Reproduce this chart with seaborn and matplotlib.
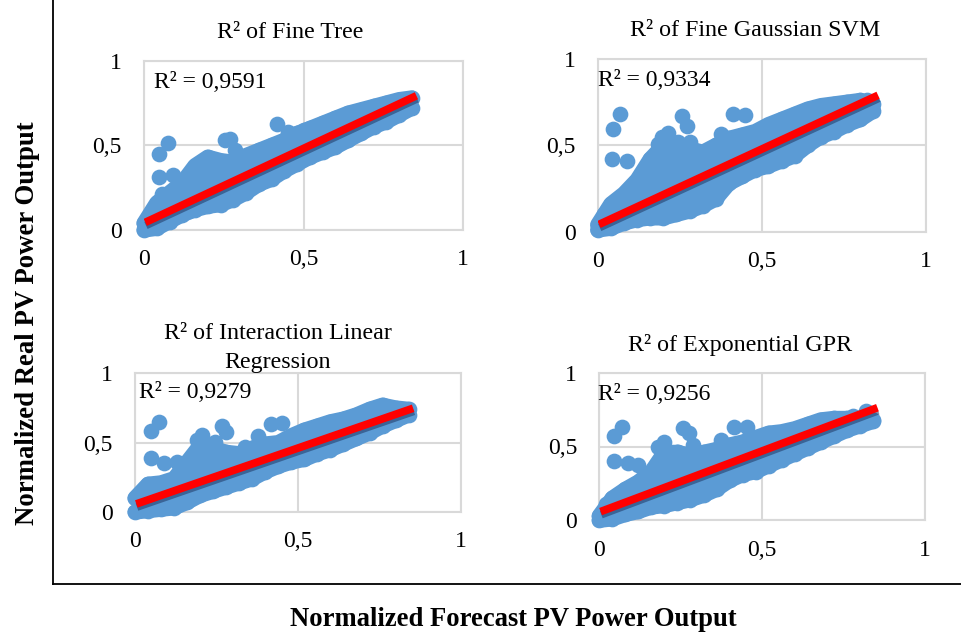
import matplotlib
matplotlib.use("Agg")
import matplotlib.pyplot as plt
import matplotlib.patheffects as pe
import seaborn as sns

x_edge = [0, .04, .08, .12, .16, .20, .24, .28, .32, .36, .40, .44, .48, .52, .56, .60, .64, .68, .72, .76, .80, .84]
x_mid = [.02, .06, .10, .14, .18, .22, .26, .30, .34, .38, .42, .46, .50, .54, .58, .62, .66, .70, .74, .78, .82]
x_side = [.02, .06, .10, .14, .18, .22, .26, .30, .34, .38, .42, .46]
x_dense = [.12, .16, .20, .24, .28, .32]
x_line = [0.004, 0.854]

titles = ["R² of Fine Tree", "R² of Fine Gaussian SVM",
          "R² of Interaction Linear\nRegression", "R² of Exponential GPR"]
r2_labels = ["R² = 0,9591", "R² = 0,9334", "R² = 0,9279", "R² = 0,9256"]
tick_values = [0, 0.5, 1]
tick_labels = ["0", "0,5", "1"]

tree_upper = [.04, .16, .22, .28, .38, .43, .41, .40, .44, .47, .50, .53, .57, .60, .63, .66, .69, .71, .73, .75, .77, .78]
tree_lower = [0, .01, .05, .09, .12, .14, .15, .18, .22, .27, .30, .35, .39, .43, .46, .49, .53, .57, .61, .64, .68, .72]
tree_mid = [.06, .10, .13, .17, .20, .24, .27, .31, .34, .38, .41, .45, .48, .52, .55, .59, .62, .66, .69, .73, .76]
tree_hi = [.09, .15, .19, .23, .28, .30, .32, .35, .38, .43, .46, .50]
tree_lo = [.03, .06, .09, .11, .14, .17, .19, .22, .27, .31, .36, .39]
tree_top = [.22, .31, .36, .35, .35, .37]
tree_out_x = [.076, .048, .048, .092, .27, .254, .285, .418, .452, .50, .055]
tree_out_y = [.512, .449, .315, .325, .54, .53, .47, .624, .58, .59, .215]
tree_line = [.045, .793]

svm_upper = [.04, .16, .22, .30, .42, .50, .50, .48, .46, .50, .54, .56, .58, .62, .65, .68, .71, .73, .74, .75, .76, .74]
svm_lower = [.01, .02, .05, .07, .08, .08, .10, .12, .15, .19, .28, .32, .36, .38, .41, .44, .50, .55, .58, .62, .65, .70]
svm_mid = [.06, .095, .13, .165, .20, .235, .27, .31, .34, .38, .41, .45, .48, .52, .55, .59, .62, .66, .69, .73, .76]
svm_hi = [.10, .16, .21, .26, .32, .35, .35, .36, .40, .44, .47, .52]
svm_lo = [.03, .05, .08, .11, .13, .16, .18, .22, .26, .30, .35, .39]
svm_top = [.24, .34, .42, .43, .41, .40]
svm_out_x = [.068, .048, .045, .09, .258, .271, .413, .45, .375, .195, .215, .245, .28, .185]
svm_out_y = [.68, .595, .42, .41, .67, .614, .68, .675, .565, .55, .57, .52, .52, .51]
svm_line = [.042, .79]

lin_upper = [.10, .20, .21, .24, .36, .48, .46, .43, .42, .46, .49, .50, .55, .59, .62, .65, .67, .70, .74, .77, .75, .74]
lin_lower = [0, .01, .02, .03, .07, .12, .15, .18, .21, .24, .29, .33, .36, .38, .42, .45, .49, .53, .57, .62, .66, .70]
lin_mid = [.07, .105, .14, .17, .20, .235, .27, .30, .33, .365, .40, .43, .465, .50, .53, .56, .595, .625, .66, .69, .72]
lin_hi = [.11, .16, .19, .21, .27, .31, .33, .35, .37, .40, .44, .47]
lin_lo = [.03, .05, .07, .09, .13, .17, .19, .22, .24, .28, .33, .36]
lin_top = [.20, .30, .40, .39, .37, .37]
lin_out_x = [.074, .048, .048, .089, .266, .28, .418, .45, .379, .205, .19, .246, .338, .128]
lin_out_y = [.65, .587, .387, .35, .62, .58, .635, .64, .548, .555, .52, .507, .47, .36]
lin_line = [.058, .748]

gpr_upper = [.03, .15, .21, .26, .33, .46, .46, .44, .46, .48, .51, .53, .56, .59, .60, .62, .65, .68, .69, .69, .69, .68]
gpr_lower = [0, .01, .04, .06, .09, .10, .12, .14, .17, .21, .27, .31, .33, .37, .41, .45, .49, .53, .57, .61, .64, .67]
gpr_mid = [.075, .11, .14, .175, .21, .24, .275, .31, .34, .375, .41, .44, .475, .51, .54, .575, .61, .64, .675, .705, .74]
gpr_hi = [.11, .17, .20, .24, .29, .31, .33, .35, .37, .40, .44, .47]
gpr_lo = [.03, .05, .07, .10, .13, .15, .18, .21, .25, .29, .33, .37]
gpr_top = [.22, .29, .38, .39, .38, .39]
gpr_out_x = [.069, .045, .045, .089, .258, .276, .414, .452, .373, .20, .18, .243, .289, .12]
gpr_out_y = [.634, .571, .402, .386, .623, .589, .63, .63, .544, .533, .50, .465, .51, .375]
gpr_line = [.059, .763]

sns.set_theme(style="white")
plt.rcParams["font.family"] = ["Liberation Serif", "DejaVu Serif"]
W, H = 962, 634
BLUE, GRID = "#5B9BD5", "#D9D9D9"
fig = plt.figure(figsize=(W / 100, H / 100), dpi=100, facecolor="white")


def rect(l, t, r, b):
    return [l / W, 1 - b / H, (r - l) / W, (b - t) / H]


frame = fig.add_axes(rect(53, 0, 962, 584), zorder=0)
frame.set_xticks([])
frame.set_yticks([])
for s in ["top", "right"]:
    frame.spines[s].set_visible(False)
for s in ["left", "bottom"]:
    frame.spines[s].set_color("black")
    frame.spines[s].set_linewidth(1.3)

panels = [
    dict(box=(144, 60.7, 463, 230), title_at=(290, 33), r2_at=(154, 82),
         upper=tree_upper, lower=tree_lower, mid=tree_mid, hi=tree_hi, lo=tree_lo, top=tree_top,
         ox=tree_out_x, oy=tree_out_y, line=tree_line),
    dict(box=(597.7, 59, 926, 231.7), title_at=(755, 30), r2_at=(598, 80),
         upper=svm_upper, lower=svm_lower, mid=svm_mid, hi=svm_hi, lo=svm_lo, top=svm_top,
         ox=svm_out_x, oy=svm_out_y, line=svm_line),
    dict(box=(135, 373.3, 460.7, 512), title_at=(278, 348), r2_at=(139, 393),
         upper=lin_upper, lower=lin_lower, mid=lin_mid, hi=lin_hi, lo=lin_lo, top=lin_top,
         ox=lin_out_x, oy=lin_out_y, line=lin_line),
    dict(box=(599.3, 372.7, 925, 520.3), title_at=(740, 345), r2_at=(598, 394),
         upper=gpr_upper, lower=gpr_lower, mid=gpr_mid, hi=gpr_hi, lo=gpr_lo, top=gpr_top,
         ox=gpr_out_x, oy=gpr_out_y, line=gpr_line),
]

for p, title, r2 in zip(panels, titles, r2_labels):
    l, t, r, b = p["box"]
    ax = fig.add_axes(rect(l, t, r, b), zorder=2)
    ax.patch.set_alpha(0)
    ax.fill_between(x_edge, p["lower"], p["upper"], color=BLUE, linewidth=0, zorder=3)
    for edge in (p["upper"], p["lower"]):
        sns.lineplot(x=x_edge, y=edge, ax=ax, color=BLUE, linewidth=11, errorbar=None, zorder=3,
                     solid_joinstyle="round", solid_capstyle="round", clip_on=False)
    xs = x_edge + x_edge + x_mid + x_side + x_side + x_dense + p["ox"]
    ys = p["upper"] + p["lower"] + p["mid"] + p["hi"] + p["lo"] + p["top"] + p["oy"]
    sns.scatterplot(x=xs, y=ys, ax=ax, color=BLUE, s=128, linewidth=0, clip_on=False, zorder=3)
    sns.lineplot(x=x_line, y=p["line"], ax=ax, color="#FF0000", linewidth=5.6, zorder=4,
                 solid_capstyle="butt", errorbar=None,
                 path_effects=[pe.SimpleLineShadow(offset=(0.5, -2.2), shadow_color="#1F3864", alpha=0.55),
                               pe.Normal()])
    ax.set_xlim(0, 1)
    ax.set_ylim(0, 1)
    ax.set_xticks(tick_values, tick_labels)
    ax.set_yticks(tick_values, tick_labels)
    ax.grid(True, color=GRID, linewidth=1.5)
    ax.set_axisbelow(True)
    ax.tick_params(axis="x", length=0, pad=14, labelsize=17, labelcolor="black")
    ax.tick_params(axis="y", length=0, pad=16, labelsize=17, labelcolor="black")
    for s in ax.spines.values():
        s.set_color(GRID)
        s.set_linewidth(1.5)
    tx, ty = p["title_at"]
    ax.set_title(title, x=(tx - l) / (r - l), y=(b - ty) / (b - t), va="center", ha="center", pad=0,
                 fontsize=17.3, color="black", linespacing=1.45)
    rx, ry = p["r2_at"]
    ax.text((rx - l) / (r - l), (b - ry) / (b - t), r2, transform=ax.transAxes, va="center", ha="left",
            fontsize=17, color="black", zorder=5)

fig.supxlabel("Normalized Forecast PV Power Output", x=513 / W, y=1 - 620 / H, va="center", ha="center",
              fontsize=19.2, fontweight="bold", color="black")
fig.supylabel("Normalized Real PV Power Output", x=28 / W, y=1 - 323 / H, va="center", ha="center",
              fontsize=19.3, fontweight="bold", color="black")
fig.savefig("out.png", dpi=100, facecolor="white")
